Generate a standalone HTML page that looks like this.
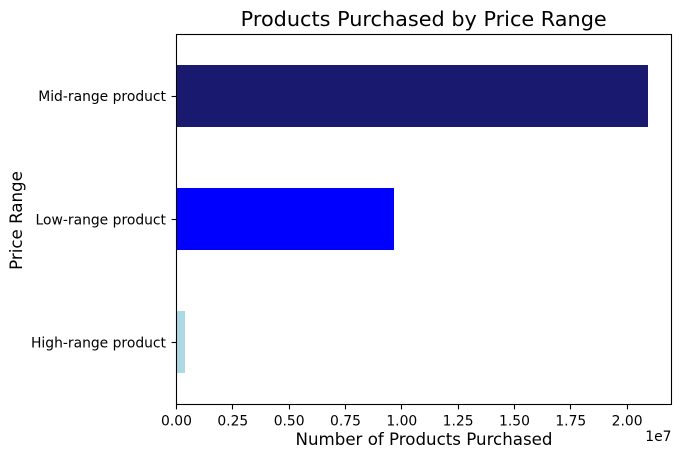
<!DOCTYPE html>
<html>
<head>
<meta charset="utf-8">
<title>Products Purchased by Price Range</title>
<style>
html,body{margin:0;padding:0;background:#fff;}
svg{display:block;}
text{font-family:"DejaVu Sans",sans-serif;fill:#000;}
</style>
</head>
<body>
<svg id="chart" xmlns="http://www.w3.org/2000/svg" width="681" height="458" viewBox="0 0 681 458">
<rect x="0" y="0" width="681" height="458" fill="#fff"/>
<g id="bars"></g>
<g id="x-ticks"></g>
<g id="y-ticks"></g>
<rect x="176.5" y="34.5" width="495" height="370" fill="none" stroke="#000" stroke-width="1.1"/>
<text x="423.7" y="26" font-size="20.8" text-anchor="middle">Products Purchased by Price Range</text>
<text x="424" y="445" font-size="16.67" text-anchor="middle">Number of Products Purchased</text>
<text x="0" y="0" font-size="16.67" text-anchor="middle" transform="translate(22 220.5) rotate(-90)">Price Range</text>
<text x="671.5" y="441" font-size="13.89" text-anchor="end">1e7</text>
</svg>
<script>
const categories = ["High-range product", "Low-range product", "Mid-range product"];
const purchased = [380000, 9650000, 20920000];
const barColors = ["lightblue", "blue", "midnightblue"];
const xTickValues = [0, 2500000, 5000000, 7500000, 10000000, 12500000, 15000000, 17500000, 20000000];
const xTickLabels = ["0.00", "0.25", "0.50", "0.75", "1.00", "1.25", "1.50", "1.75", "2.00"];
const xDomain = [0, 21970000];
const yDomain = [-0.5, 2.5];
const barWidth = 0.5;

const plot = {left: 176.5, right: 671.5, top: 34, bottom: 404};
const NS = "http://www.w3.org/2000/svg";

function xScale(v) {
  return plot.left + (v - xDomain[0]) / (xDomain[1] - xDomain[0]) * (plot.right - plot.left);
}
function yScale(v) {
  return plot.bottom - (v - yDomain[0]) / (yDomain[1] - yDomain[0]) * (plot.bottom - plot.top);
}

const barsGroup = document.getElementById("bars");
const xTicksGroup = document.getElementById("x-ticks");
const yTicksGroup = document.getElementById("y-ticks");

categories.forEach(function (cat, i) {
  const centre = Math.round(yScale(i));
  const half = Math.round((yScale(0) - yScale(barWidth)) / 2);

  const bar = document.createElementNS(NS, "rect");
  
  
  bar.setAttribute("x", xScale(0));
  bar.setAttribute("y", centre - half);
  bar.setAttribute("width", Math.round(xScale(purchased[i])) - xScale(0));
  bar.setAttribute("height", half * 2);
  bar.setAttribute("fill", barColors[i]);
  barsGroup.appendChild(bar);

  const tick = document.createElementNS(NS, "line");
  
  
  tick.setAttribute("x1", plot.left - 4.9);
  tick.setAttribute("x2", plot.left);
  tick.setAttribute("y1", centre + 0.5);
  tick.setAttribute("y2", centre + 0.5);
  tick.setAttribute("stroke", "#000");
  tick.setAttribute("stroke-width", "1.1");
  yTicksGroup.appendChild(tick);

  const label = document.createElementNS(NS, "text");
  
  
  label.setAttribute("x", plot.left - 10.5);
  label.setAttribute("y", yScale(i) + 5.3);
  label.setAttribute("font-size", "13.89");
  label.setAttribute("text-anchor", "end");
  label.textContent = cat;
  yTicksGroup.appendChild(label);
});

xTickValues.forEach(function (v, i) {
  const tickX = Math.floor(xScale(v)) + 0.5;

  const tick = document.createElementNS(NS, "line");
  
  
  tick.setAttribute("x1", tickX);
  tick.setAttribute("x2", tickX);
  tick.setAttribute("y1", 404.5);
  tick.setAttribute("y2", 409.4);
  tick.setAttribute("stroke", "#000");
  tick.setAttribute("stroke-width", "1.1");
  xTicksGroup.appendChild(tick);

  const label = document.createElementNS(NS, "text");
  
  
  label.setAttribute("x", xScale(v));
  label.setAttribute("y", 425.5);
  label.setAttribute("font-size", "13.89");
  label.setAttribute("text-anchor", "middle");
  label.textContent = xTickLabels[i];
  xTicksGroup.appendChild(label);
});
</script>
</body>
</html>
